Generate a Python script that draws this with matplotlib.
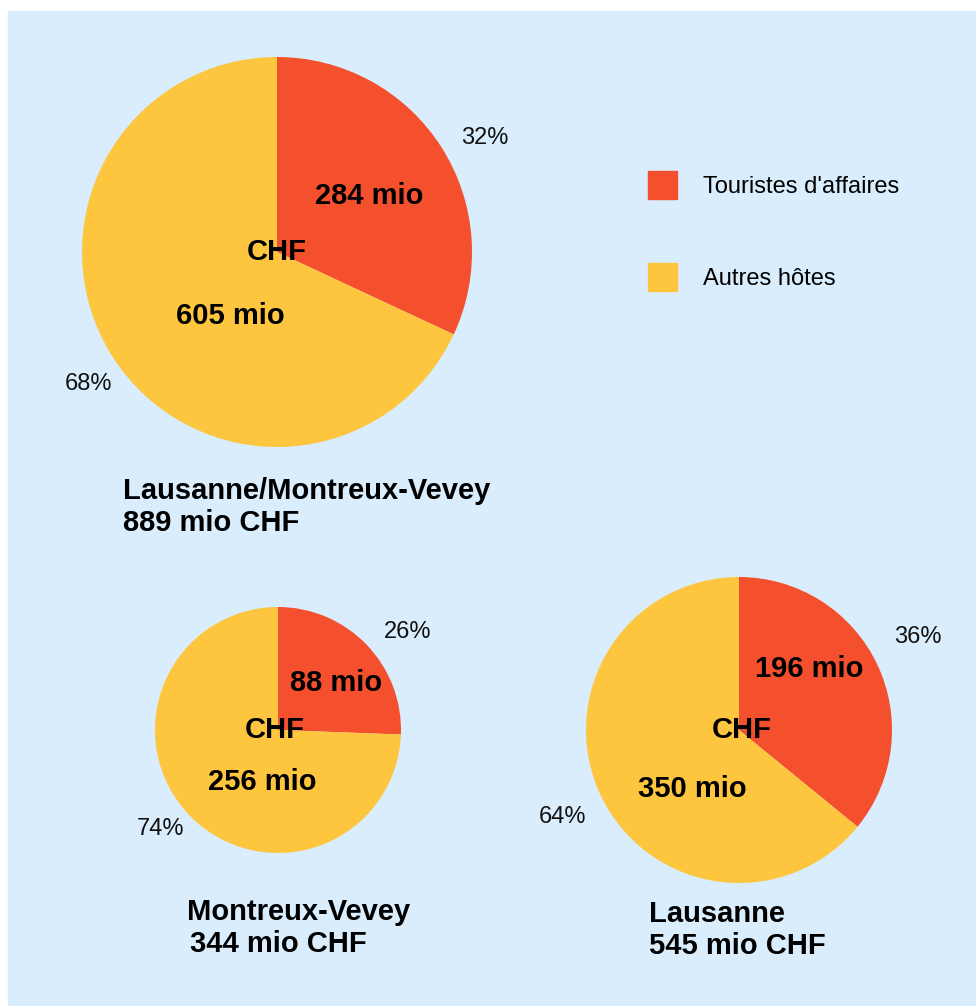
import matplotlib.pyplot as plt
from matplotlib.patches import Rectangle, Patch

plt.rcParams['font.family'] = ['Liberation Sans', 'DejaVu Sans']

W, H = 976, 1006

# data (mio CHF)
regions = ['Lausanne/Montreux-Vevey', 'Montreux-Vevey', 'Lausanne']
totals = ['889 mio CHF', '344 mio CHF', '545 mio CHF']
affaires = [284, 88, 196]
autres = [605, 256, 350]
series = ["Touristes d'affaires", 'Autres hôtes']
colors = ['#F4502E', '#FEC53F']
bg = '#D9EDFD'

# layout in pixels (x, y from top)
centers = [(277, 252), (278, 730), (739, 730)]
radii = [195, 123, 153]
red_pct = [(485, 135), (408, 629), (918, 634)]
yel_pct = [(88, 381), (160, 826), (562, 814)]
red_lbl = [(369, 193), (336, 680), (809, 666)]
yel_lbl = [(230, 313), (262, 779), (692, 786)]
chf_lbl = [(277, 249), (275, 727), (742, 727)]
title_pos = [((123, 488), (123, 520)), ((187, 909), (190, 941)), ((649, 911), (649, 943))]
dy = 3  # text visual center correction

fig = plt.figure(figsize=(W / 100, H / 100), dpi=100)
fig.patch.set_facecolor('white')
ax = fig.add_axes([0, 0, 1, 1])

ax.add_patch(Rectangle((8, 0), W - 8, H - 11, color=bg, zorder=0))


def put(pos, s, **kw):
    ax.text(pos[0], H - pos[1] - dy, s, va='center', **kw)


for i in range(3):
    cx, cy = centers[i]
    vals = [affaires[i], autres[i]]
    wedges, _ = ax.pie(vals, colors=colors, startangle=90, counterclock=False,
                       center=(cx, H - cy), radius=radii[i],
                       wedgeprops=dict(linewidth=0))
    for w in wedges:
        w.set_zorder(1)

    tot = sum(vals)
    pct = dict(fontsize=17, ha='center', color='#111111')
    put(red_pct[i], f'{100 * vals[0] / tot:.0f}%', **pct)
    put(yel_pct[i], f'{100 * vals[1] / tot:.0f}%', **pct)

    bold = dict(fontsize=21, fontweight='bold', ha='center', color='black')
    put(red_lbl[i], f'{affaires[i]} mio', **bold)
    put(yel_lbl[i], f'{autres[i]} mio', **bold)
    put(chf_lbl[i], 'CHF', **bold)

    p1, p2 = title_pos[i]
    put(p1, regions[i], fontsize=21, fontweight='bold', ha='left')
    put(p2, totals[i], fontsize=21, fontweight='bold', ha='left')

handles = [Patch(color=c) for c in colors]
ax.legend(handles, series, loc='upper left', bbox_to_anchor=(648 / W, 1 - 171 / H),
          bbox_transform=fig.transFigure, frameon=False, fontsize=17,
          handlelength=1.22, handleheight=1.45, handletextpad=1.1,
          labelspacing=2.7, borderpad=0, borderaxespad=0)

ax.set_xlim(0, W)
ax.set_ylim(0, H)
ax.set_aspect('equal')
ax.axis('off')

fig.savefig('out.png', dpi=100, facecolor='white')
